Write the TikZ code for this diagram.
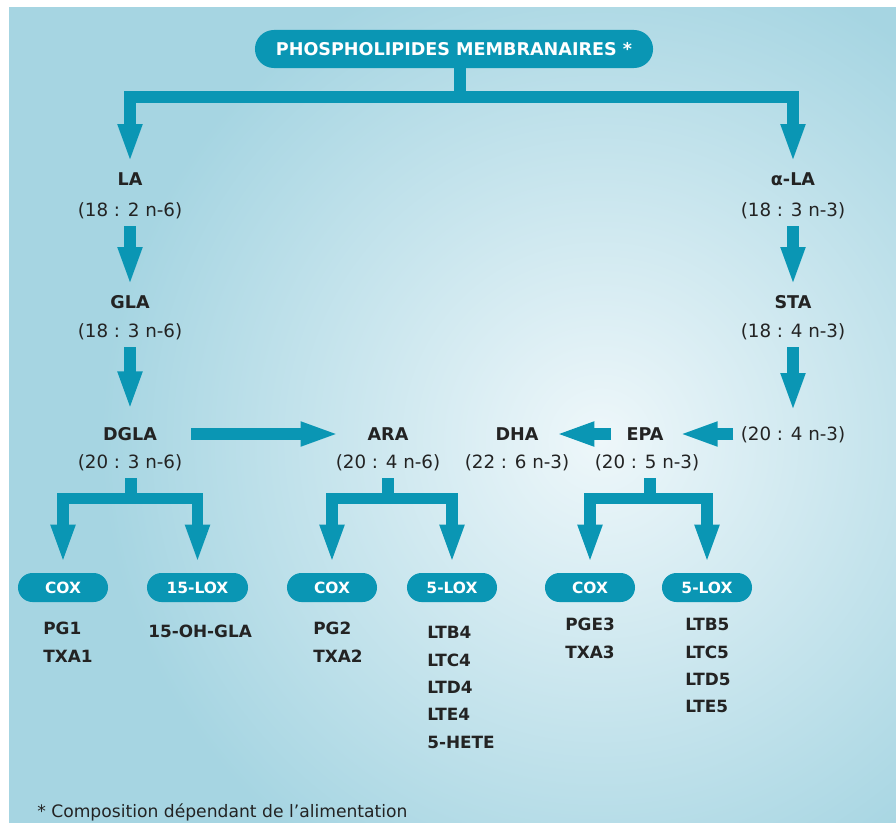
\documentclass[tikz,border=0pt]{standalone}
\usepackage{fontspec}
\setmainfont{DejaVu Sans}
\usepackage{xcolor}
\usepackage{tikz}
\usetikzlibrary{shapes.misc,arrows.meta,calc,positioning}

\definecolor{flowteal}{RGB}{10,150,180}
\definecolor{inkgrey}{RGB}{35,35,35}
\definecolor{bgdark}{RGB}{166,213,226}
\definecolor{bglight}{RGB}{238,247,250}

\begin{document}
\begin{tikzpicture}[x=0.025cm, y=-0.025cm,
    flowline/.style={draw=flowteal, line width=0.28cm, line join=miter},
    flow/.style={flowline, -{Triangle[length=0.97cm, width=0.55cm]}, shorten <=0.23cm, shorten >=0.23cm},
    fork/.style={flowline, {Triangle[length=0.97cm, width=0.55cm]}-{Triangle[length=0.97cm, width=0.55cm]}, shorten <=0.23cm, shorten >=0.23cm},
    pill/.style={rounded rectangle, fill=flowteal, text=white, inner sep=0pt, minimum width=2.25cm, minimum height=0.725cm, font=\bfseries\fontsize{11}{13}\selectfont},
    acid/.style={text=inkgrey, inner sep=0pt, text height=9.5pt, text depth=0pt, font=\bfseries\fontsize{12.5}{14}\selectfont},
    formula/.style={text=inkgrey, inner sep=0pt, text height=9.5pt, text depth=0pt, font=\fontsize{13}{15}\selectfont},
    products/.style={text=inkgrey, inner sep=0pt, align=left, anchor=north west, font=\bfseries\fontsize{12}{19.5}\selectfont}]

    \useasboundingbox (0,0) rectangle (896,823);

    % Background
    \begin{scope}
        \clip (9,7) rectangle (896,823);
        \fill[bgdark] (9,7) rectangle (896,823);
        \shade[inner color=bglight, outer color=bgdark] (600,440) circle (12.5cm);
    \end{scope}

    % Top
    \node[pill, minimum width=9.95cm, minimum height=0.95cm, font=\bfseries\fontsize{12.5}{14}\selectfont] (title) at (454,49) {PHOSPHOLIPIDES MEMBRANAIRES *};
    \coordinate (top) at (460,97);

    % n-6 side
    \node[acid] (la) at (130,179) {LA};
    \node[formula] (laF) at (130,210) {(18 : 2 n-6)};
    \node[acid] (gla) at (130,302) {GLA};
    \node[formula] (glaF) at (130,331) {(18 : 3 n-6)};
    \node[acid] (dgla) at (130,434) {DGLA};
    \node[formula] (dglaF) at (130,462) {(20 : 3 n-6)};
    \node[acid] (ara) at (388,434) {ARA};
    \node[formula] (araF) at (388,462) {(20 : 4 n-6)};

    % n-3 side
    \node[acid] (ala) at (793,179) {α-LA};
    \node[formula] (alaF) at (793,210) {(18 : 3 n-3)};
    \node[acid] (sta) at (793,302) {STA};
    \node[formula] (staF) at (793,331) {(18 : 4 n-3)};
    \node[formula] (etaF) at (793,434) {(20 : 4 n-3)};
    \node[acid] (epa) at (645,434) {EPA};
    \node[formula] (epaF) at (647,462) {(20 : 5 n-3)};
    \node[acid] (dha) at (517,434) {DHA};
    \node[formula] (dhaF) at (517,462) {(22 : 6 n-3)};

    % Enzymes
    \node[pill] (coxA) at (63,587.5) {COX};
    \node[pill, minimum width=2.525cm] (loxA) at (197.5,587.5) {15-LOX};
    \node[pill] (coxB) at (332,587.5) {COX};
    \node[pill] (loxB) at (452,587.5) {5-LOX};
    \node[pill] (coxC) at (590,587.5) {COX};
    \node[pill] (loxC) at (707,587.5) {5-LOX};
    \coordinate (forkA) at (131,498.5);
    \coordinate (forkB) at (388,498.5);
    \coordinate (forkC) at (650,498.5);

    % Products
    \node[products] (prodA) at (43,622) {PG1\\TXA1};
    \node[products] (prodB) at (148,625) {15-OH-GLA};
    \node[products] (prodC) at (313,622) {PG2\\TXA2};
    \node[products] (prodD) at (427,626) {LTB4\\LTC4\\LTD4\\LTE4\\5-HETE};
    \node[products] (prodE) at (565,618) {PGE3\\TXA3};
    \node[products] (prodF) at (685,618) {LTB5\\LTC5\\LTD5\\LTE5};

    \node[anchor=west, inner sep=0pt, text=inkgrey, font=\fontsize{12.2}{14}\selectfont] (note) at (37,812) {* Composition dépendant de l'alimentation};

    % Arrows
    \draw[flowline] (top |- title.south) -- (top);
    \draw[fork] (la.north) -- (la.north |- top) -- (ala.north |- top) -- (ala.north);
    \draw[flow] (laF.south) -- (gla.north);
    \draw[flow, shorten >=0.42cm] (glaF.south) -- (dgla.north);
    \draw[flow] (alaF.south) -- (sta.north);
    \draw[flow, shorten >=0.38cm] (staF.south) -- (etaF.north);
    \draw[flow, shorten <=0.85cm, shorten >=0.7cm] (dgla.east) -- (ara.west);
    \draw[flow, shorten <=0.38cm, shorten >=0.42cm] (epa.west) -- (dha.east);
    \draw[flow, shorten <=0.18cm, shorten >=0.38cm] (etaF.west) -- (epa.east);

    \foreach \src/\fk/\lft/\rgt in {dglaF/forkA/coxA/loxA, araF/forkB/coxB/loxB, epaF/forkC/coxC/loxC} {
        \draw[flowline, shorten <=0.23cm] (\fk |- \src.south) -- (\fk);
        \draw[fork] (\lft.north) -- (\lft.north |- \fk) -- (\rgt.north |- \fk) -- (\rgt.north);
    }
\end{tikzpicture}
\end{document}
